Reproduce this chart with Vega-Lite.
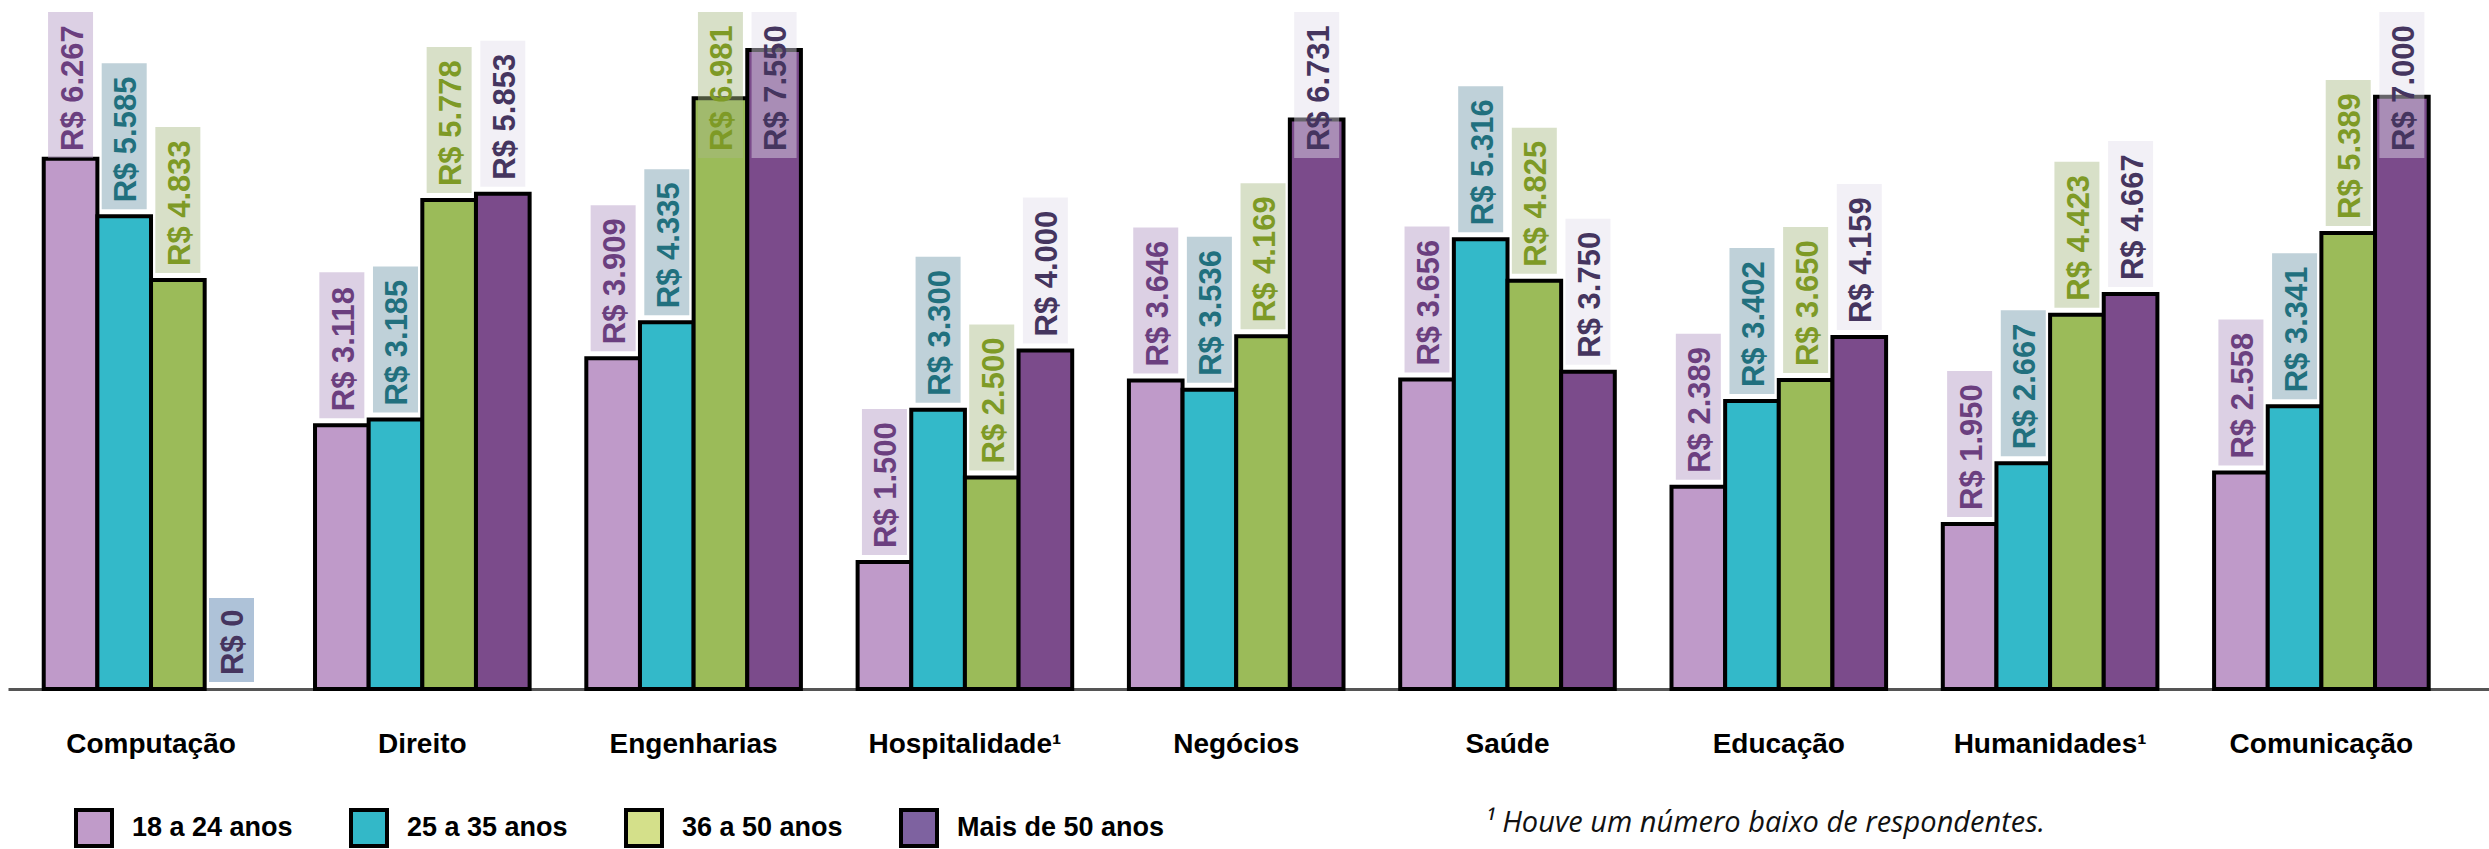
{
  "$schema": "https://vega.github.io/schema/vega-lite/v6.json",
  "width": 2481,
  "height": 677,
  "autosize": {"type": "none"},
  "padding": {"left": 8, "top": 12, "right": 0, "bottom": 160},
  "background": "white",
  "config": {
    "view": {"stroke": null},
    "locale": {"number": {"decimal": ",", "thousands": ".", "grouping": [3], "currency": ["R$ ", ""]}}
  },
  "data": {
    "values": [
      {"area": "Computação", "age": "18 a 24 anos", "value": 6267},
      {"area": "Computação", "age": "25 a 35 anos", "value": 5585},
      {"area": "Computação", "age": "36 a 50 anos", "value": 4833},
      {"area": "Computação", "age": "Mais de 50 anos", "value": 0},
      {"area": "Direito", "age": "18 a 24 anos", "value": 3118},
      {"area": "Direito", "age": "25 a 35 anos", "value": 3185},
      {"area": "Direito", "age": "36 a 50 anos", "value": 5778},
      {"area": "Direito", "age": "Mais de 50 anos", "value": 5853},
      {"area": "Engenharias", "age": "18 a 24 anos", "value": 3909},
      {"area": "Engenharias", "age": "25 a 35 anos", "value": 4335},
      {"area": "Engenharias", "age": "36 a 50 anos", "value": 6981},
      {"area": "Engenharias", "age": "Mais de 50 anos", "value": 7550},
      {"area": "Hospitalidade¹", "age": "18 a 24 anos", "value": 1500},
      {"area": "Hospitalidade¹", "age": "25 a 35 anos", "value": 3300},
      {"area": "Hospitalidade¹", "age": "36 a 50 anos", "value": 2500},
      {"area": "Hospitalidade¹", "age": "Mais de 50 anos", "value": 4000},
      {"area": "Negócios", "age": "18 a 24 anos", "value": 3646},
      {"area": "Negócios", "age": "25 a 35 anos", "value": 3536},
      {"area": "Negócios", "age": "36 a 50 anos", "value": 4169},
      {"area": "Negócios", "age": "Mais de 50 anos", "value": 6731},
      {"area": "Saúde", "age": "18 a 24 anos", "value": 3656},
      {"area": "Saúde", "age": "25 a 35 anos", "value": 5316},
      {"area": "Saúde", "age": "36 a 50 anos", "value": 4825},
      {"area": "Saúde", "age": "Mais de 50 anos", "value": 3750},
      {"area": "Educação", "age": "18 a 24 anos", "value": 2389},
      {"area": "Educação", "age": "25 a 35 anos", "value": 3402},
      {"area": "Educação", "age": "36 a 50 anos", "value": 3650},
      {"area": "Educação", "age": "Mais de 50 anos", "value": 4159},
      {"area": "Humanidades¹", "age": "18 a 24 anos", "value": 1950},
      {"area": "Humanidades¹", "age": "25 a 35 anos", "value": 2667},
      {"area": "Humanidades¹", "age": "36 a 50 anos", "value": 4423},
      {"area": "Humanidades¹", "age": "Mais de 50 anos", "value": 4667},
      {"area": "Comunicação", "age": "18 a 24 anos", "value": 2558},
      {"area": "Comunicação", "age": "25 a 35 anos", "value": 3341},
      {"area": "Comunicação", "age": "36 a 50 anos", "value": 5389},
      {"area": "Comunicação", "age": "Mais de 50 anos", "value": 7000}
    ]
  },
  "encoding": {
    "x": {
      "field": "area",
      "type": "nominal",
      "sort": null,
      "scale": {"paddingInner": 0.209, "paddingOuter": 0.177, "align": 0.372},
      "axis": {
        "title": "¹ Houve um número baixo de respondentes.",
        "titleFont": "Open Sans",
        "titleFontStyle": "italic",
        "titleFontWeight": "normal",
        "titleFontSize": 29,
        "titleColor": "#111111",
        "titleX": 1476,
        "titleY": 142,
        "titleAlign": "left",
        "titleBaseline": "alphabetic",
        "labelAngle": 0,
        "labelFont": "Liberation Sans",
        "labelFontWeight": "bold",
        "labelFontSize": 28,
        "labelColor": "black",
        "labelPadding": 41,
        "labelLimit": 400,
        "ticks": false,
        "domainColor": "#555555",
        "domainWidth": 3
      }
    },
    "xOffset": {
      "field": "age",
      "type": "nominal",
      "sort": ["18 a 24 anos", "25 a 35 anos", "36 a 50 anos", "Mais de 50 anos"],
      "scale": {"paddingInner": 0, "paddingOuter": 0}
    }
  },
  "layer": [
    {
      "transform": [{"filter": "datum.value > 0"}],
      "mark": {"type": "bar", "stroke": "black", "strokeWidth": 4, "opacity": 1},
      "encoding": {
        "y": {"field": "value", "type": "quantitative", "scale": {"domain": [0, 8000], "nice": false}, "axis": null},
        "color": {
          "field": "age",
          "type": "nominal",
          "scale": {
            "domain": ["18 a 24 anos", "25 a 35 anos", "36 a 50 anos", "Mais de 50 anos"],
            "range": ["#bf9ac9", "#33b9c9", "#9bbb59", "#7b4b8b"]
          },
          "legend": null
        }
      }
    },
    {
      "transform": [{"filter": "datum.value < 0"}],
      "mark": {"type": "bar", "stroke": "black", "strokeWidth": 4, "opacity": 1},
      "encoding": {
        "y": {"field": "value", "type": "quantitative", "scale": {"domain": [0, 8000], "nice": false}, "axis": null},
        "color": {
          "field": "age",
          "type": "nominal",
          "scale": {
            "domain": ["18 a 24 anos", "25 a 35 anos", "36 a 50 anos", "Mais de 50 anos"],
            "range": ["#c09bc9", "#33b8c8", "#d4e08a", "#7e62a0"]
          },
          "legend": {
            "orient": "none",
            "legendX": 66,
            "legendY": 796,
            "direction": "horizontal",
            "title": null,
            "symbolType": "square",
            "symbolSize": 1296,
            "symbolStrokeWidth": 4,
            "symbolStrokeColor": "black",
            "symbolOpacity": 1,
            "labelFont": "Liberation Sans",
            "labelFontSize": 27,
            "labelFontWeight": "bold",
            "labelColor": "black",
            "labelOffset": 18,
            "labelLimit": 400,
            "columnPadding": 50,
            "padding": 0
          }
        }
      }
    },
    {
      "layer": [
        {
          "transform": [{"filter": "datum.value > 0"}],
          "mark": {"type": "bar", "width": 45, "yOffset": -146, "y2Offset": 0, "opacity": 0.45},
          "encoding": {
            "y": {"field": "value", "type": "quantitative", "scale": {"domain": [0, 6192], "range": [670, 146], "clamp": true, "nice": false, "zero": false}, "axis": null},
            "y2": {"field": "value"},
            "color": {
              "field": "age",
              "type": "nominal",
              "scale": {
                "domain": ["18 a 24 anos", "25 a 35 anos", "36 a 50 anos", "Mais de 50 anos"],
                "range": ["#b197c3", "#7199ab", "#a8ba85", "#e2deeb"]
              },
              "legend": null
            }
          }
        },
        {
          "transform": [{"filter": "datum.value == 0"}],
          "mark": {"type": "bar", "width": 45, "yOffset": -84, "y2Offset": 0, "opacity": 0.45},
          "encoding": {
            "y": {"field": "value", "type": "quantitative"},
            "y2": {"field": "value"},
            "color": {
              "field": "age",
              "type": "nominal",
              "legend": null
            }
          }
        },
        {
          "mark": {"type": "text", "angle": 270, "align": "left", "baseline": "middle", "yOffset": -7, "dy": 3, "font": "Liberation Sans", "fontSize": 31, "fontWeight": "bold"},
          "encoding": {
            "y": {"field": "value", "type": "quantitative"},
            "text": {"field": "value", "type": "quantitative", "format": "$,.0f"},
            "color": {
              "field": "age",
              "type": "nominal",
              "scale": {
                "domain": ["18 a 24 anos", "25 a 35 anos", "36 a 50 anos", "Mais de 50 anos"],
                "range": ["#6b3f7f", "#21707e", "#7e9a26", "#45355f"]
              },
              "legend": null
            }
          }
        }
      ],
      "resolve": {"scale": {"color": "independent"}}
    }
  ],
  "resolve": {"scale": {"y": "independent", "color": "independent"}}
}
